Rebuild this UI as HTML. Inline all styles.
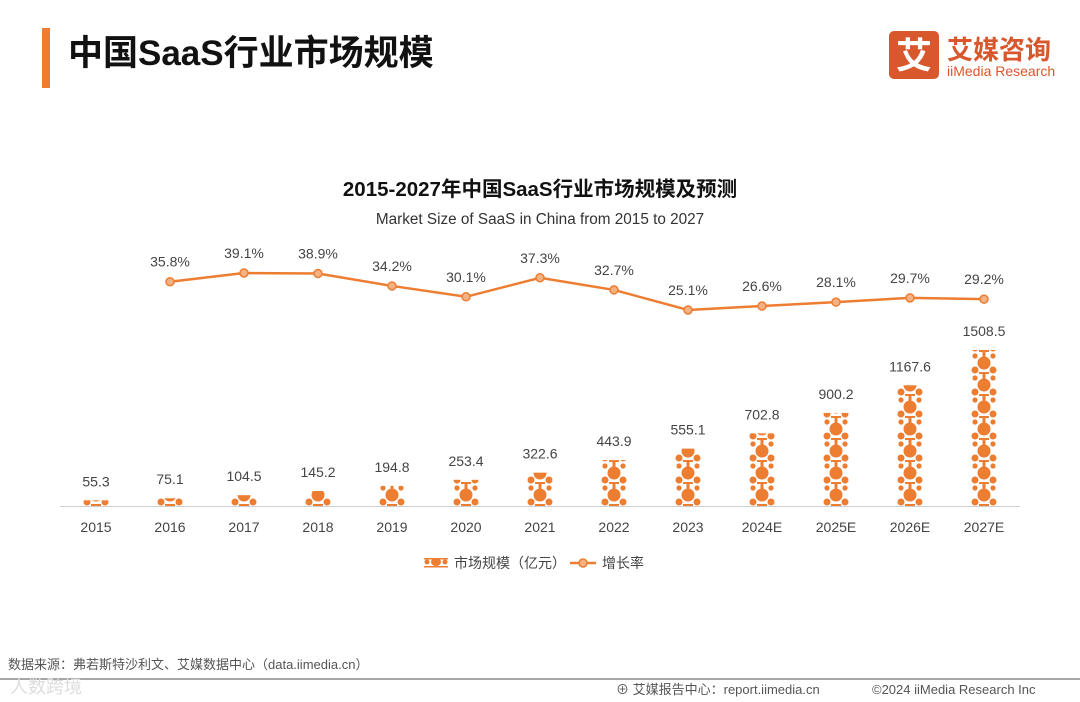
<!DOCTYPE html>
<html><head><meta charset="utf-8">
<style>
body{margin:0;width:1080px;height:702px;background:#fff;overflow:hidden;font-family:"Liberation Sans","Noto Sans CJK SC",sans-serif;}
svg{display:block}
</style></head><body>
<svg id="chart" width="1080" height="702" viewBox="0 0 1080 702" xmlns="http://www.w3.org/2000/svg">
<defs id="defs"></defs>
<rect x="42" y="28" width="8" height="60" fill="#ed7d31"/>
<text x="68" y="65" font-size="35" font-weight="bold" fill="#111">中国SaaS行业市场规模</text>
<g>
<rect x="889" y="31" width="50" height="48" rx="5" fill="#d9572d"/>
<text x="914" y="68" font-size="36" font-weight="bold" fill="#fff" text-anchor="middle">艾</text>
<text x="947" y="59" font-size="26" font-weight="bold" fill="#d9572d">艾媒咨询</text>
<text x="947" y="76" font-size="14" fill="#d9572d">iiMedia Research</text>
</g>
<text x="540" y="196" font-size="20.5" font-weight="bold" fill="#111" text-anchor="middle">2015-2027年中国SaaS行业市场规模及预测</text>
<text x="540" y="224" font-size="15.3" fill="#333" text-anchor="middle">Market Size of SaaS in China from 2015 to 2027</text>
<line x1="60" y1="506.5" x2="1020" y2="506.5" stroke="#d0d0d0" stroke-width="1"/>
<g id="bars"></g><g id="line"></g><g id="xlabels"></g>
<g>
<g fill="#ed7d31">
<ellipse cx="436" cy="562" rx="5" ry="4"/>
<circle cx="427" cy="562" r="2.5"/><circle cx="445" cy="562" r="2.5"/>
<rect x="424" y="558" width="24" height="1.5"/><rect x="424" y="566" width="24" height="1.5"/>
<text x="454" y="568" font-size="14" fill="#444">市场规模（亿元）</text>
</g>
<g>
<line x1="570" y1="563" x2="596" y2="563" stroke="#ed7d31" stroke-width="2.5"/>
<circle cx="583" cy="563" r="4" fill="#f4b183" stroke="#ed7d31" stroke-width="1.5"/>
<text x="602" y="568" font-size="14" fill="#444">增长率</text>
</g>
</g>
<text x="8" y="669" font-size="13" fill="#555">数据来源：弗若斯特沙利文、艾媒数据中心（data.iimedia.cn）</text>
<line x1="0" y1="679" x2="1080" y2="679" stroke="#888" stroke-width="1.5"/>
<text x="10" y="693" font-size="18" fill="#ddd">人数跨境</text>
<text x="616" y="694" font-size="13" fill="#555">⊕ 艾媒报告中心：report.iimedia.cn</text>
<text x="872" y="694" font-size="13" fill="#555">©2024 iiMedia Research Inc</text>
</svg>
<script>
const categories=["2015","2016","2017","2018","2019","2020","2021","2022","2023","2024E","2025E","2026E","2027E"];
const marketSize=[55.3,75.1,104.5,145.2,194.8,253.4,322.6,443.9,555.1,702.8,900.2,1167.6,1508.5];
const growthRate=[null,35.8,39.1,38.9,34.2,30.1,37.3,32.7,25.1,26.6,28.1,29.7,29.2];
const NS="http://www.w3.org/2000/svg";
const xPos=i=>96+i*74;
const yBar=v=>506-v*0.1034;
const yLine=v=>273+(39.1-v)*2.643;
function mk(tag,attrs,parent){const e=document.createElementNS(NS,tag);for(const k in attrs)e.setAttribute(k,attrs[k]);parent.appendChild(e);return e;}
const defs=document.getElementById('defs');
const gb=document.getElementById('bars'),gl=document.getElementById('line'),gx=document.getElementById('xlabels');
categories.forEach((c,i)=>{
  const x=xPos(i),y=yBar(marketSize[i]);
  const p=mk('pattern',{id:'p'+i,x:x-13,y:506,width:26,height:22,patternUnits:'userSpaceOnUse'},defs);
  mk('rect',{width:26,height:22,fill:'#fff'},p);
  mk('circle',{cx:13,cy:11,r:6.5,fill:'#ed7d31'},p);
  mk('circle',{cx:4,cy:18,r:3.5,fill:'#ed7d31'},p);
  mk('circle',{cx:22,cy:18,r:3.5,fill:'#ed7d31'},p);
  mk('circle',{cx:4,cy:4,r:2.6,fill:'#ed7d31'},p);
  mk('circle',{cx:22,cy:4,r:2.6,fill:'#ed7d31'},p);
  mk('rect',{x:11.5,y:0,width:3,height:5,fill:'#ed7d31'},p);
  mk('rect',{x:8,y:20,width:10,height:2,fill:'#ed7d31'},p);
  const r=mk('rect',{x:x-13,y:y,width:26,height:506-y,fill:'url(#p'+i+')'},gb);
  
  
  const t=mk('text',{x:x,y:y-14,'font-size':14,fill:'#444','text-anchor':'middle'},gb);
  t.textContent=marketSize[i].toFixed(1);
  
  
  const xl=mk('text',{x:x,y:532,'font-size':14,fill:'#444','text-anchor':'middle'},gx);
  xl.textContent=c;
  
  
});
let pts=[];growthRate.forEach((v,i)=>{if(v!==null)pts.push(xPos(i)+','+yLine(v));});
const pl=mk('polyline',{points:pts.join(' '),fill:'none',stroke:'#ed7d31','stroke-width':2.5},gl);


growthRate.forEach((v,i)=>{
  if(v===null)return;
  const x=xPos(i),y=yLine(v);
  const c=mk('circle',{cx:x,cy:y,r:4,fill:'#f4b183',stroke:'#ed7d31','stroke-width':1.5},gl);
  
  
  const t=mk('text',{x:x,y:y-15,'font-size':14,fill:'#444','text-anchor':'middle'},gl);
  t.textContent=v.toFixed(1)+'%';
  
  
});
</script>
</body></html>
